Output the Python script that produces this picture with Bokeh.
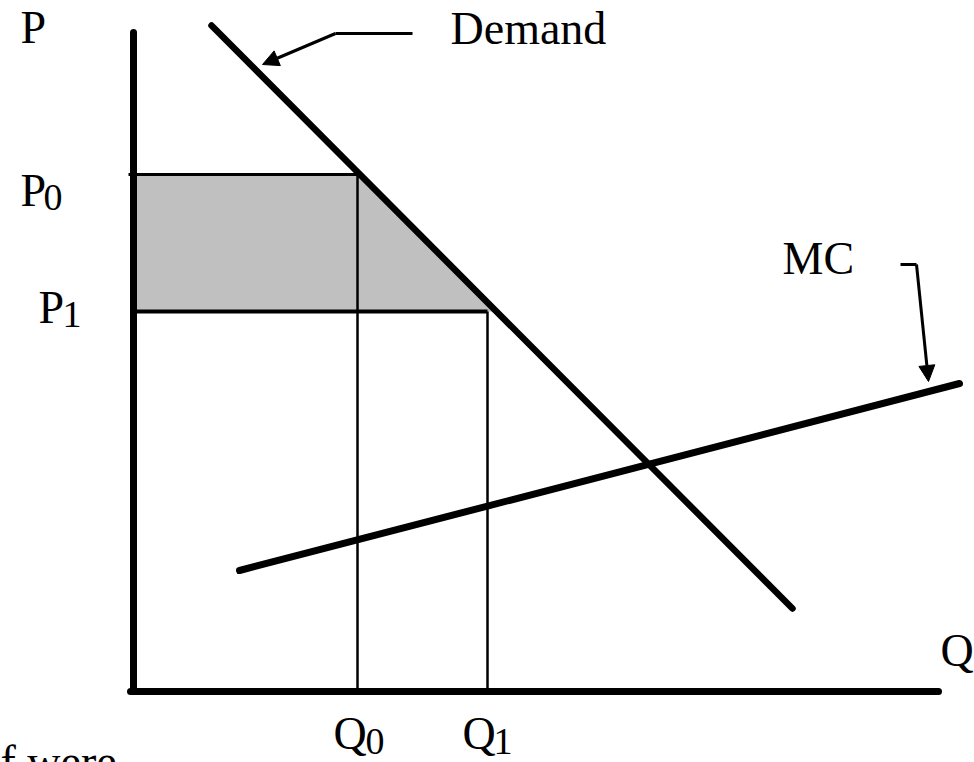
from bokeh.plotting import figure
from bokeh.models import Range1d, Arrow, NormalHead
from bokeh.core.properties import value
from bokeh.embed import file_html
from bokeh.resources import INLINE

# ---- diagram data (Q horizontal, P vertical; origin at the axes corner) ----
axis_p_top = 659          # top of the price axis
axis_q_right = 805        # right end of the quantity axis

demand_q = [78, 659]
demand_p = [666, 83]

mc_q = [106, 826]
mc_p = [121, 308]

P0 = 517
P1 = 380
Q0 = 224
Q1 = 354

# shaded area between P0 and P1 under demand
shade_q = [0, 226, 360, 0]
shade_p = [517, 517, 380, 380]

# labels
main_labels = ["P", "Demand", "MC", "Q", "P", "P", "Q", "Q", "f were"]
main_q = [-113, 317, 649, 807, -113, -95, 200, 329, -133]
main_p = [664, 663, 433, 41, 501, 384, -42, -42, -70]
sub_labels = ["0", "1", "0", "1"]
sub_q = [-90, -71, 232, 360]
sub_p = [494, 377, -50, -50]

# annotation arrows (polyline leader + arrow segment)
dem_lead_q = [279, 202]
dem_lead_p = [658, 658]
dem_arrow = (202, 658, 129, 627)
mc_lead_q = [767, 783]
mc_lead_p = [427, 427]
mc_arrow = (783, 427, 795, 310)

p = figure(width=974, height=762, output_backend="svg", toolbar_location=None,
           x_range=Range1d(-133, 841), y_range=Range1d(-71, 691),
           x_axis_location=None, y_axis_location=None, min_border=0)
p.grid.visible = False
p.outline_line_color = None
p.background_fill_color = "white"

# shaded region
p.patch(shade_q, shade_p, fill_color="#C0C0C0", line_color=None)

# guide lines
p.line([-5, Q0], [P0, P0], line_color="black", line_width=3)
p.line([0, Q1], [P1, P1], line_color="black", line_width=4)
p.line([Q0, Q0], [0, P0], line_color="black", line_width=2.5)
p.line([Q1, Q1], [0, P1], line_color="black", line_width=2.5)

# axes
p.line([0, 0], [0, axis_p_top], line_color="black", line_width=7, line_cap="round")
p.line([-3, axis_q_right], [0, 0], line_color="black", line_width=7, line_cap="round")

# curves
p.line(demand_q, demand_p, line_color="black", line_width=6.5, line_cap="round")
p.line(mc_q, mc_p, line_color="black", line_width=7, line_cap="round")

# leaders and arrows
p.line(dem_lead_q, dem_lead_p, line_color="black", line_width=3)
p.add_layout(Arrow(end=NormalHead(size=16, fill_color="black", line_color="black"),
                   x_start=dem_arrow[0], y_start=dem_arrow[1],
                   x_end=dem_arrow[2], y_end=dem_arrow[3],
                   line_color="black", line_width=3))
p.line(mc_lead_q, mc_lead_p, line_color="black", line_width=3)
p.add_layout(Arrow(end=NormalHead(size=16, fill_color="black", line_color="black"),
                   x_start=mc_arrow[0], y_start=mc_arrow[1],
                   x_end=mc_arrow[2], y_end=mc_arrow[3],
                   line_color="black", line_width=3))

# texts
p.text(main_q, main_p, text=main_labels, text_font=value("Liberation Serif"),
       text_font_size="46px", text_color="black",
       text_align="left", text_baseline="alphabetic")
p.text(sub_q, sub_p, text=sub_labels, text_font=value("Liberation Serif"),
       text_font_size="38px", text_color="black",
       text_align="left", text_baseline="alphabetic")

open("out.html", "w").write(file_html(p, INLINE))
